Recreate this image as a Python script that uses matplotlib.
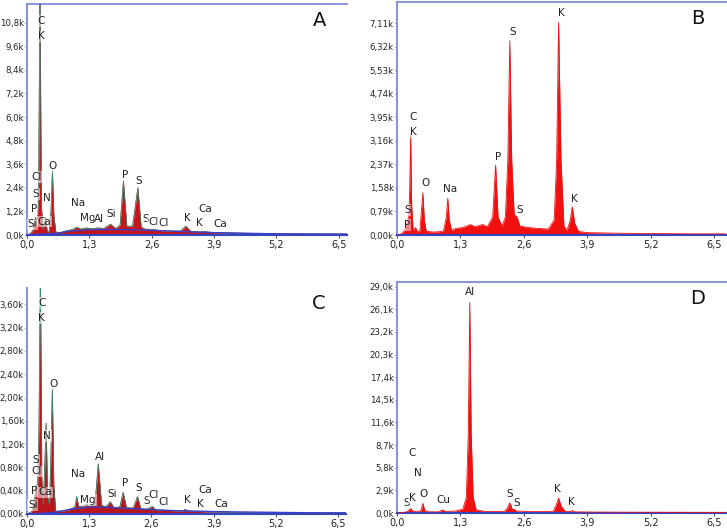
import matplotlib
matplotlib.use("Agg")
import matplotlib.pyplot as plt

# ---------------- data (counts in thousands, energy in keV) ----------------
A_energy = [0.00, 0.05, 0.10, 0.14, 0.18, 0.21, 0.24, 0.27, 0.30, 0.33, 0.36, 0.39, 0.42, 0.46,
            0.50, 0.53, 0.56, 0.60, 0.70, 0.80, 0.95, 1.04, 1.12, 1.25, 1.35, 1.49, 1.60, 1.74,
            1.85, 1.94, 2.01, 2.08, 2.20, 2.31, 2.38, 2.46, 2.62, 2.80, 3.00, 3.20, 3.31, 3.42,
            3.60, 3.70, 3.90, 4.50, 5.20, 6.00, 6.67]
A_counts = [0.00, 0.05, 0.15, 0.35, 0.90, 0.50, 2.00, 12.5, 1.50, 0.30, 0.60, 0.90, 0.20, 0.15,
            1.20, 3.30, 1.00, 0.15, 0.12, 0.20, 0.28, 0.40, 0.30, 0.36, 0.32, 0.36, 0.33, 0.55,
            0.33, 0.50, 2.75, 0.45, 0.45, 2.40, 0.40, 0.30, 0.28, 0.22, 0.20, 0.20, 0.45, 0.18,
            0.15, 0.17, 0.12, 0.09, 0.06, 0.05, 0.05]
A_bg_energy = [0.0, 0.3, 0.6, 0.9, 1.3, 1.8, 2.3, 2.8, 3.3, 3.9, 4.5, 5.2, 6.0, 6.67]
A_bg_counts = [0.0, 0.05, 0.08, 0.20, 0.27, 0.28, 0.26, 0.22, 0.17, 0.12, 0.09, 0.06, 0.05, 0.04]
A_yticks = [0.0, 1.2, 2.4, 3.6, 4.8, 6.0, 7.2, 8.4, 9.6, 10.8]
A_labels = ["C", "K", "Cl", "S", "N", "P", "Si", "Ca", "O", "Na", "Mg", "Al", "Si", "P", "S",
            "S", "Cl", "Cl", "K", "Ca", "K", "Ca"]
A_label_x = [0.29, 0.29, 0.20, 0.18, 0.41, 0.14, 0.11, 0.36, 0.53, 1.06, 1.26, 1.51, 1.76, 2.04,
             2.33, 2.48, 2.63, 2.84, 3.34, 3.71, 3.60, 4.03]
A_label_y = [10.9, 10.1, 2.95, 2.08, 1.90, 1.32, 0.54, 0.68, 3.52, 1.61, 0.85, 0.81, 1.05, 3.05,
             2.76, 0.80, 0.68, 0.63, 0.85, 1.31, 0.63, 0.54]

B_energy = [0.00, 0.05, 0.10, 0.15, 0.20, 0.24, 0.26, 0.28, 0.30, 0.33, 0.38, 0.42, 0.47, 0.50,
            0.53, 0.56, 0.60, 0.75, 0.95, 1.01, 1.04, 1.07, 1.12, 1.20, 1.35, 1.50, 1.60, 1.75,
            1.85, 1.96, 2.02, 2.07, 2.15, 2.22, 2.27, 2.31, 2.35, 2.40, 2.46, 2.52, 2.70, 2.90,
            3.10, 3.22, 3.27, 3.31, 3.36, 3.42, 3.48, 3.55, 3.59, 3.64, 3.72, 3.90, 4.50, 5.20,
            6.00, 6.74]
B_counts = [0.00, 0.02, 0.05, 0.15, 0.40, 0.60, 1.50, 3.36, 1.00, 0.15, 0.25, 0.10, 0.15, 0.80,
            1.42, 0.50, 0.12, 0.10, 0.12, 0.60, 1.24, 0.50, 0.15, 0.22, 0.25, 0.35, 0.28, 0.35,
            0.28, 0.60, 2.35, 0.60, 0.30, 0.60, 2.50, 6.53, 2.50, 0.70, 0.60, 0.30, 0.25, 0.22,
            0.20, 0.50, 2.50, 7.14, 2.50, 0.30, 0.15, 0.50, 0.95, 0.40, 0.12, 0.08, 0.06, 0.05,
            0.04, 0.04]
B_yticks = [0.00, 0.79, 1.58, 2.37, 3.16, 3.95, 4.74, 5.53, 6.32, 7.11]
B_labels = ["K", "S", "C", "K", "P", "O", "Na", "S", "P", "S", "K"]
B_label_x = [3.36, 2.36, 0.33, 0.33, 2.08, 0.58, 1.09, 0.21, 0.20, 2.52, 3.64]
B_label_y = [7.45, 6.83, 3.98, 3.47, 2.61, 1.74, 1.55, 0.84, 0.33, 0.84, 1.21]

C_energy = [0.00, 0.08, 0.12, 0.16, 0.19, 0.22, 0.25, 0.28, 0.31, 0.34, 0.37, 0.40, 0.43, 0.47,
            0.50, 0.53, 0.56, 0.60, 0.75, 0.90, 1.00, 1.04, 1.08, 1.20, 1.25, 1.30, 1.42, 1.49,
            1.56, 1.65, 1.74, 1.82, 1.94, 2.01, 2.08, 2.22, 2.31, 2.38, 2.50, 2.62, 2.70, 3.00,
            3.25, 3.31, 3.38, 3.70, 4.20, 5.00, 6.00, 6.67]
C_counts = [0.00, 0.03, 0.08, 0.25, 0.50, 0.35, 1.50, 4.20, 0.60, 0.15, 0.80, 1.56, 0.30, 0.15,
            1.00, 2.17, 0.50, 0.05, 0.05, 0.08, 0.12, 0.30, 0.13, 0.14, 0.17, 0.14, 0.15, 0.86,
            0.15, 0.12, 0.21, 0.11, 0.12, 0.37, 0.11, 0.10, 0.30, 0.09, 0.08, 0.13, 0.07, 0.06,
            0.05, 0.08, 0.05, 0.04, 0.03, 0.025, 0.02, 0.02]
C_bg_energy = [0.0, 0.3, 0.6, 0.9, 1.3, 1.6, 2.0, 2.5, 3.0, 3.5, 4.0, 5.0, 6.0, 6.67]
C_bg_counts = [0.0, 0.01, 0.03, 0.08, 0.12, 0.12, 0.10, 0.08, 0.06, 0.05, 0.04, 0.03, 0.02, 0.02]
C_yticks = [0.00, 0.40, 0.80, 1.20, 1.60, 2.00, 2.40, 2.80, 3.20, 3.60]
C_labels = ["C", "K", "O", "N", "S", "Cl", "P", "Ca", "Si", "Na", "Mg", "Al", "Si", "P", "S",
            "S", "Cl", "Cl", "K", "Ca", "K", "Ca"]
C_label_x = [0.31, 0.31, 0.55, 0.42, 0.18, 0.21, 0.15, 0.38, 0.12, 1.07, 1.28, 1.52, 1.78, 2.06,
             2.34, 2.50, 2.65, 2.85, 3.35, 3.72, 3.63, 4.06]
C_label_y = [3.62, 3.36, 2.23, 1.34, 0.93, 0.73, 0.39, 0.37, 0.15, 0.68, 0.24, 0.98, 0.34, 0.53,
             0.45, 0.22, 0.33, 0.20, 0.24, 0.42, 0.17, 0.17]

D_energy = [0.00, 0.10, 0.20, 0.25, 0.28, 0.31, 0.40, 0.49, 0.53, 0.57, 0.65, 0.85, 0.93, 1.00,
            1.20, 1.35, 1.42, 1.46, 1.49, 1.52, 1.56, 1.62, 1.80, 2.20, 2.26, 2.31, 2.36, 2.45,
            2.70, 3.20, 3.26, 3.31, 3.37, 3.45, 3.55, 3.59, 3.64, 4.00, 5.00, 6.74]
D_counts = [0.00, 0.05, 0.15, 0.40, 0.65, 0.30, 0.15, 0.30, 1.25, 0.30, 0.15, 0.15, 0.40, 0.20,
            0.25, 0.50, 2.00, 10.0, 27.0, 10.0, 2.00, 0.40, 0.20, 0.20, 0.60, 1.30, 0.60, 0.25,
            0.20, 0.20, 1.00, 1.90, 0.80, 0.20, 0.20, 0.30, 0.15, 0.12, 0.10, 0.08]
D_yticks = [0.0, 2.9, 5.8, 8.7, 11.6, 14.5, 17.4, 20.3, 23.2, 26.1, 29.0]
D_labels = ["Al", "C", "N", "S", "K", "O", "Cu", "S", "S", "K", "K"]
D_label_x = [1.50, 0.30, 0.42, 0.20, 0.31, 0.55, 0.95, 2.30, 2.45, 3.29, 3.57]
D_label_y = [28.3, 7.66, 5.18, 1.24, 1.96, 2.44, 1.67, 2.44, 1.32, 3.08, 1.37]

x_ticks = [0.0, 1.3, 2.6, 3.9, 5.2, 6.5]

# ---------------- drawing ----------------
W, H = 727, 531
fig = plt.figure(figsize=(W / 100, H / 100), dpi=100)
fig.patch.set_facecolor("white")

FRAME = "#8a96da"
AXISBLUE = "#3346c0"
TXT = "#222222"


def make_ax(l, r, t, b):
    return fig.add_axes([l / W, 1 - b / H, (r - l) / W, (b - t) / H])


def style(ax, xmax, ymax, yticks, fmt, top_spine, letter):
    ax.set_xlim(0, xmax)
    ax.set_ylim(0, ymax)
    ax.spines["right"].set_visible(False)
    ax.spines["top"].set_visible(top_spine)
    ax.spines["top"].set_color(FRAME)
    ax.spines["top"].set_linewidth(1.5)
    ax.spines["left"].set_color(FRAME)
    ax.spines["left"].set_linewidth(1.5)
    ax.spines["bottom"].set_color(AXISBLUE)
    ax.spines["bottom"].set_linewidth(1.5)
    ax.set_xticks(x_ticks)
    ax.set_xticklabels([f"{v:.1f}".replace(".", ",") for v in x_ticks])
    ax.set_yticks(yticks)
    ax.set_yticklabels([(fmt.format(v)).replace(".", ",") + "k" for v in yticks])
    ax.tick_params(axis="x", labelsize=7, colors="#555555", labelcolor=TXT,
                   length=2, width=0.8, pad=1.5)
    ax.tick_params(axis="y", labelsize=6.2, colors="#555555", labelcolor=TXT,
                   length=1.5, width=0.8, pad=0.8)
    ax.text(0.915, 0.93, letter, transform=ax.transAxes, fontsize=14, color="#111111",
            ha="center", va="center")


def labels(ax, names, xs, ys):
    for n, x, y in zip(names, xs, ys):
        ax.text(x, y, n, fontsize=7.5, color=TXT, ha="center", va="center", zorder=6,
                bbox=dict(boxstyle="square,pad=0.08", fc="white", ec="none", alpha=0.5))


# Panel A
axA = make_ax(27, 347, 4, 235)
axA.fill_between(A_energy, A_counts, color="#c8141a", lw=0, zorder=2)
axA.plot(A_energy, A_counts, color="#7a1414", lw=0.5, zorder=3)
axA.plot(A_energy, A_counts, color="#2fa882", lw=0.5, zorder=3, alpha=0.8)
axA.plot(A_bg_energy, A_bg_counts, color="#3a3fc8", lw=1.0, zorder=4)
style(axA, 6.67, 11.75, A_yticks, "{:.1f}", True, "A")
labels(axA, A_labels, A_label_x, A_label_y)

# Panel B
axB = make_ax(397, 726, 2, 235)
axB.fill_between(B_energy, B_counts, color="#f01010", lw=0, zorder=2)
axB.plot(B_energy, B_counts, color="#f01010", lw=0.6, zorder=3)
style(axB, 6.74, 7.83, B_yticks, "{:.2f}", True, "B")
labels(axB, B_labels, B_label_x, B_label_y)

# Panel C
axC = make_ax(27, 346, 288, 514)
axC.fill_between(C_energy, C_counts, color="#b8161c", lw=0, zorder=2)
axC.plot(C_energy, C_counts, color="#7a1414", lw=0.5, zorder=3)
axC.plot(C_energy, C_counts, color="#2fa882", lw=0.5, zorder=3, alpha=0.8)
axC.plot(C_bg_energy, C_bg_counts, color="#3a3fc8", lw=1.0, zorder=4)
style(axC, 6.67, 3.88, C_yticks, "{:.2f}", False, "C")
labels(axC, C_labels, C_label_x, C_label_y)

# Panel D
axD = make_ax(397, 726, 282, 513)
axD.fill_between(D_energy, D_counts, color="#f01010", lw=0, zorder=2)
axD.plot(D_energy, D_counts, color="#f01010", lw=0.6, zorder=3)
style(axD, 6.74, 29.6, D_yticks, "{:.1f}", True, "D")
labels(axD, D_labels, D_label_x, D_label_y)

fig.savefig("out.png", dpi=100, facecolor="white")
